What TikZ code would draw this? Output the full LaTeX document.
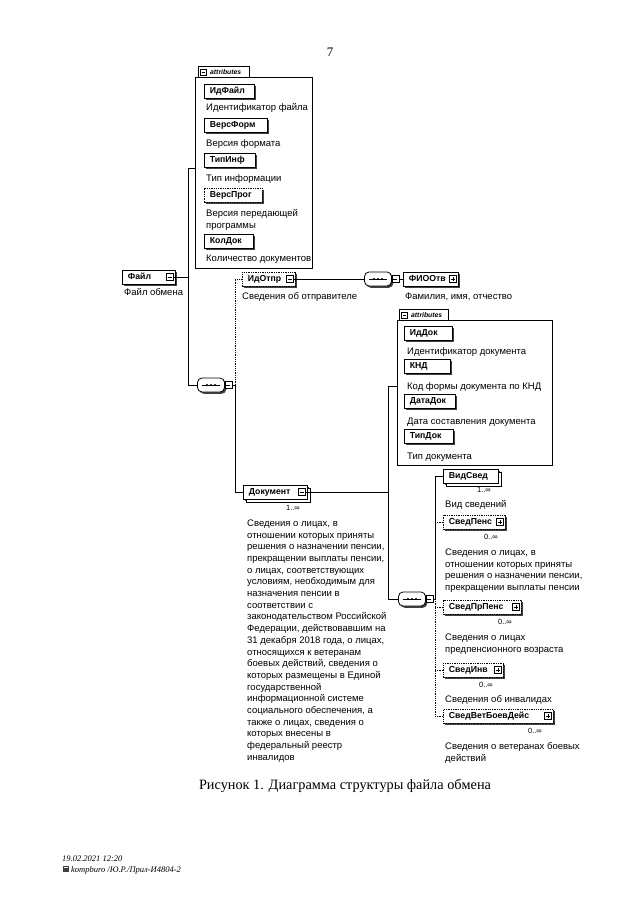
\documentclass[tikz,border=0pt]{standalone}
\usepackage{fontspec}
\setmainfont{Liberation Serif}
\newfontfamily\xsans{Liberation Sans}
\usetikzlibrary{shadows}
\newcommand{\lbx}[2]{\makebox[#1][l]{#2}}
\tikzset{
  pics/xplus/.style={code={
    \draw[fill=white,line width=0.6pt,solid] (-3.5,-3.5) rectangle (3.5,3.5);
    \draw[line width=0.6pt,solid] (-2,0) -- (2,0) (0,-2) -- (0,2);}},
  pics/xminus/.style={code={
    \draw[fill=white,line width=0.6pt,solid] (-3.5,-3.5) rectangle (3.5,3.5);
    \draw[line width=0.6pt,solid] (-2,0) -- (2,0);}},
  pics/tminus/.style={code={
    \draw[fill=white,line width=0.5pt] (-3,-3) rectangle (3,3);
    \draw[line width=0.5pt] (-1.8,0) -- (1.8,0);}},
}
\begin{document}
\begin{tikzpicture}[x=1pt,y=-1pt,
  shad/.style={drop shadow={shadow xshift=1.8pt,shadow yshift=-1.8pt,fill=black!75,opacity=1}},
  elem/.style={draw, fill=white, line width=0.8pt, shad, anchor=west,
    font=\xsans\bfseries\fontsize{8.7}{10}\selectfont, minimum height=14pt,
    text height=6.3pt, text depth=1.7pt, inner xsep=5.5pt, inner ysep=0pt},
  opt/.style={dash pattern=on 1.3pt off 1pt},
  multi/.style={copy shadow={shadow xshift=3pt,shadow yshift=-3pt,draw=black,fill=white,line width=0.8pt}},
  desc/.style={anchor=base west, font=\xsans\fontsize{9.5}{11.7}\selectfont, inner sep=0pt, align=left},
  descm/.style={desc, anchor=north west},
  card/.style={anchor=base east, font=\xsans\fontsize{7.5}{8}\selectfont, inner sep=0pt},
  seqc/.style={draw, fill=white, rounded corners=4.5pt, minimum width=27pt, minimum height=14pt, shad, line width=0.8pt},
  attbox/.style={draw, line width=0.7pt, anchor=north west, inner sep=0pt},
  atttab/.style={draw, fill=white, line width=0.7pt, anchor=north west, inner sep=0pt},
  tabtext/.style={anchor=west, inner sep=0pt, font=\xsans\bfseries\itshape\fontsize{6.8}{7}\selectfont},
  conn/.style={line width=0.7pt},
  dconn/.style={line width=0.8pt, densely dotted}
]
\useasboundingbox (0,0) rectangle (640,905);
\fill[white] (0,0) rectangle (640,905);

\node[font=\fontsize{13}{14}\selectfont, anchor=base, inner sep=0pt] (pnum) at (330,56.5) {7};

% ---------- attributes of Файл
\node[attbox, minimum width=117pt, minimum height=191pt] (att1) at (195,77) {};
\node[atttab, minimum width=51pt, minimum height=11pt] (tab1) at (198,66) {};
\pic at ([xshift=5.5pt]tab1.west) {tminus};
\node[tabtext] (tab1t) at ([xshift=12pt]tab1.west) {attributes};

\node[elem] (idfajl) at (204,91) {\lbx{39pt}{ИдФайл}};
\node[desc] (didfajl) at (206,110.5) {Идентификатор файла};
\node[elem] (versform) at (204,125) {\lbx{52pt}{ВерсФорм}};
\node[desc] (dversform) at (206,146.5) {Версия формата};
\node[elem] (tipinf) at (204,160) {\lbx{40pt}{ТипИнф}};
\node[desc] (dtipinf) at (206,181.5) {Тип информации};
\node[elem, opt] (versprog) at (204,195) {\lbx{47pt}{ВерсПрог}};
\node[descm] (dversprog) at (206,209.5) {Версия передающей\\программы};
\node[elem] (koldok) at (204,241) {\lbx{38pt}{КолДок}};
\node[desc] (dkoldok) at (206,261.5) {Количество документов};

% ---------- Файл
\node[elem] (fajl) at (122,277) {\lbx{42pt}{Файл}};
\pic at ([xshift=-6pt]fajl.east) {xminus};
\node[desc] (dfajl) at (124,295.5) {Файл обмена};

\node[seqc] (c1) at (211,385) {};
\draw[line width=0.6pt] ([xshift=5pt]c1.west) -- ([xshift=-5pt]c1.east);
\foreach \d in {-4,0,4} \fill ([xshift=\d pt]c1.center) circle (1.1pt);
\pic at ([xshift=3.5pt]c1.east) {xminus};

\coordinate (t0) at (188,0);
\draw[conn] ([yshift=4.5pt]att1.west) -| (t0 |- c1.west) -- (c1.west);
\draw[conn] ([xshift=-2pt]fajl.east) -- (t0 |- fajl.east);

% ---------- ИдОтпр
\node[elem, opt] (idotpr) at (242,279) {\lbx{42pt}{ИдОтпр}};
\pic at ([xshift=-6pt]idotpr.east) {xminus};
\node[desc] (didotpr) at (242,299.5) {Сведения об отправителе};

\node[seqc] (c2) at (378,279) {};
\draw[line width=0.6pt] ([xshift=5pt]c2.west) -- ([xshift=-5pt]c2.east);
\foreach \d in {-4,0,4} \fill ([xshift=\d pt]c2.center) circle (1.1pt);
\pic at ([xshift=3.5pt]c2.east) {xminus};

\node[elem] (fio) at (403,279) {\lbx{44pt}{ФИООтв}};
\pic at ([xshift=-6pt]fio.east) {xplus};
\node[desc] (dfio) at (405,299.5) {Фамилия, имя, отчество};

\draw[conn] ([xshift=-2pt]idotpr.east) -- (c2.west);
\draw[conn] ([xshift=7pt]c2.east) -- (fio.west);

% ---------- Документ
\node[elem, multi] (dok) at (243,492) {\lbx{53pt}{Документ}};
\pic at ([xshift=-6pt]dok.east) {xminus};
\node[card] (kdok) at (300,510.5) {1..∞};
\node[descm] (ddok) at (247,519.5) {Сведения о лицах, в\\отношении которых приняты\\решения о назначении пенсии,\\прекращении выплаты пенсии,\\о лицах, соответствующих\\условиям, необходимым для\\назначения пенсии в\\соответствии с\\законодательством Российской\\Федерации, действовавшим на\\31 декабря 2018 года, о лицах,\\относящихся к ветеранам\\боевых действий, сведения о\\которых размещены в Единой\\государственной\\информационной системе\\социального обеспечения, а\\также о лицах, сведения о\\которых внесены в\\федеральный реестр\\инвалидов};

\coordinate (t1) at (235,0);
\draw[conn] ([xshift=7pt]c1.east) -- (t1 |- c1.east);
\draw[dconn] (t1 |- c1.east) |- (idotpr.west);
\draw[conn] (t1 |- c1.east) |- (dok.west);

% ---------- attributes of Документ
\node[attbox, minimum width=155pt, minimum height=145pt] (att2) at (397,320) {};
\node[atttab, minimum width=49pt, minimum height=11pt] (tab2) at (399,309) {};
\pic at ([xshift=5.5pt]tab2.west) {tminus};
\node[tabtext] (tab2t) at ([xshift=12pt]tab2.west) {attributes};

\node[elem] (iddok) at (404,333.5) {\lbx{37pt}{ИдДок}};
\node[desc] (diddok) at (407,354.5) {Идентификатор документа};
\node[elem] (knd) at (404,366.5) {\lbx{35pt}{КНД}};
\node[desc] (dknd) at (407,389.5) {Код формы документа по КНД};
\node[elem] (datadok) at (404,401.5) {\lbx{40pt}{ДатаДок}};
\node[desc] (ddatadok) at (407,424.5) {Дата составления документа};
\node[elem] (tipdok) at (404,436.5) {\lbx{38pt}{ТипДок}};
\node[desc] (dtipdok) at (407,459.5) {Тип документа};

\node[seqc] (c3) at (412,599) {};
\draw[line width=0.6pt] ([xshift=5pt]c3.west) -- ([xshift=-5pt]c3.east);
\foreach \d in {-4,0,4} \fill ([xshift=\d pt]c3.center) circle (1.1pt);
\pic at ([xshift=3.5pt]c3.east) {xminus};

\coordinate (t2) at (388,0);
\draw[conn] ([xshift=-2pt]dok.east) -- (t2 |- dok.east);
\draw[conn] ([yshift=7pt]att2.west) -| (t2 |- c3.west) -- (c3.west);

% ---------- children of Документ
\node[elem, multi] (vidsved) at (443,476) {\lbx{44pt}{ВидСвед}};
\node[card] (kvidsved) at (491,492.5) {1..∞};
\node[desc] (dvidsved) at (445,507.5) {Вид сведений};

\node[elem, opt] (svedpens) at (443,522) {\lbx{51pt}{СведПенс}};
\pic at ([xshift=-6pt]svedpens.east) {xplus};
\node[card] (ksvedpens) at (498,539.5) {0..∞};
\node[descm] (dsvedpens) at (445,548.5) {Сведения о лицах, в\\отношении которых приняты\\решения о назначении пенсии,\\прекращении выплаты пенсии};

\node[elem, opt] (svedprpens) at (443,607) {\lbx{67pt}{СведПрПенс}};
\pic at ([xshift=-6pt]svedprpens.east) {xplus};
\node[card] (ksvedprpens) at (512,624.5) {0..∞};
\node[descm] (dsvedprpens) at (445,633.5) {Сведения о лицах\\предпенсионного возраста};

\node[elem, opt] (svedinv) at (443,670) {\lbx{49pt}{СведИнв}};
\pic at ([xshift=-6pt]svedinv.east) {xplus};
\node[card] (ksvedinv) at (493,687.5) {0..∞};
\node[desc] (dsvedinv) at (445,702.5) {Сведения об инвалидах};

\node[elem, opt] (svedvet) at (443,716) {\lbx{99pt}{СведВетБоевДейс}};
\pic at ([xshift=-6pt]svedvet.east) {xplus};
\node[card] (ksvedvet) at (542,733.5) {0..∞};
\node[descm] (dsvedvet) at (445,742.5) {Сведения о ветеранах боевых\\действий};

\coordinate (t3) at (435,0);
\draw[conn] ([xshift=7pt]c3.east) -- (t3 |- c3.east);
\draw[conn] (t3 |- c3.east) |- (vidsved.west);
\draw[dconn] (t3 |- c3.east) |- (svedvet.west);
\draw[dconn] (t3 |- svedpens.west) -- (svedpens.west);
\draw[dconn] (t3 |- svedprpens.west) -- (svedprpens.west);
\draw[dconn] (t3 |- svedinv.west) -- (svedinv.west);

% ---------- caption and footer
\node[anchor=base, inner sep=0pt, font=\fontsize{14.3}{16}\selectfont] (caption) at (345,789) {Рисунок 1. Диаграмма структуры файла обмена};

\node[anchor=base west, inner sep=0pt, font=\itshape\fontsize{8.5}{10}\selectfont] (foot1) at (62,861) {19.02.2021 12:20};
\fill[black!75] (62.5,866) rectangle (69,872);
\fill[white] (63.5,867) rectangle (68,868.2);
\node[anchor=base west, inner sep=0pt, font=\itshape\fontsize{8.5}{10}\selectfont] (foot2) at (71,872) {kompburo /Ю.Р./Прил-И4804-2};
\end{tikzpicture}
\end{document}
